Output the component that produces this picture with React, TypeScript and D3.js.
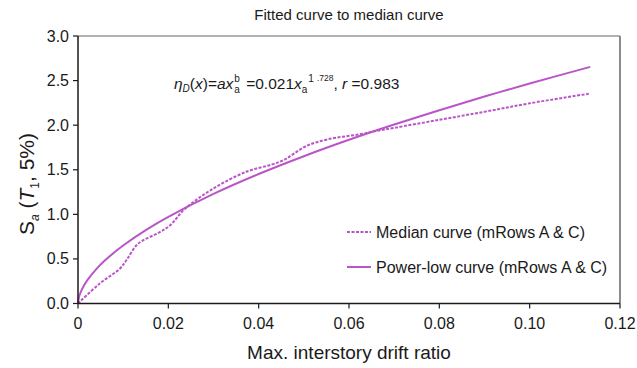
import React from "react";
import * as d3 from "d3";

const medianX = [0, 0.0048, 0.0093, 0.0107, 0.0133, 0.0181, 0.0204, 0.0237, 0.03, 0.0374, 0.043, 0.0456, 0.0478, 0.0507, 0.0552, 0.0626, 0.066, 0.07, 0.08, 0.09, 0.1, 0.1134];
const medianY = [0, 0.224, 0.392, 0.485, 0.67, 0.8, 0.877, 1.063, 1.29, 1.48, 1.56, 1.61, 1.68, 1.77, 1.84, 1.9, 1.935, 1.97, 2.06, 2.15, 2.245, 2.355];
const powerX = [0, 0.0002, 0.0005, 0.001, 0.002, 0.004, 0.006, 0.008, 0.01, 0.015, 0.02, 0.03, 0.04, 0.05, 0.06, 0.07, 0.08, 0.09, 0.1, 0.1134];
const powerY = [0, 0.068, 0.115, 0.172, 0.256, 0.383, 0.484, 0.572, 0.651, 0.823, 0.972, 1.229, 1.452, 1.652, 1.836, 2.007, 2.168, 2.321, 2.467, 2.654];
const xTicks = [0, 0.02, 0.04, 0.06, 0.08, 0.1, 0.12];
const xTickLabels = ["0", "0.02", "0.04", "0.06", "0.08", "0.10", "0.12"];
const yTicks = [0, 0.5, 1, 1.5, 2, 2.5, 3];
const legendLabels = ["Median curve (mRows A & C)", "Power-low curve (mRows A & C)"];

const COLOR = "#BA55C8";
const FONT = "Liberation Sans, Arial, sans-serif";
const INK = "#1a1a1a";

export default function App() {
  const left = 78, right = 620, top = 36, bottom = 303.5;
  const x = d3.scaleLinear().domain([0, 0.12]).range([left, right]);
  const y = d3.scaleLinear().domain([0, 3]).range([bottom, top]);
  const line = d3
    .line<[number, number]>()
    .x((d) => x(d[0]))
    .y((d) => y(d[1]))
    .curve(d3.curveCatmullRom.alpha(0.5));
  const medianPath = line(medianX.map((v, i) => [v, medianY[i]]) as [number, number][]) || "";
  const powerPath = line(powerX.map((v, i) => [v, powerY[i]]) as [number, number][]) || "";

  return (
    <svg width={637} height={368} style={{ position: "absolute", left: 0, top: 0, background: "#fff" }} fontFamily={FONT}>
      <rect width={637} height={368} fill="#fff" />
      <text x={(left + right) / 2} y={20} textAnchor="middle" fontSize={15} fill={INK}>
        Fitted curve to median curve
      </text>
      <line x1={left} x2={right} y1={top} y2={top} stroke="#666" strokeWidth={1.2} />
      <line x1={right} x2={right} y1={top} y2={bottom} stroke="#666" strokeWidth={1.5} />
      <path d={powerPath} fill="none" stroke={COLOR} strokeWidth={2} />
      <path d={medianPath} fill="none" stroke={COLOR} strokeWidth={2} strokeDasharray="3,1.5" />
      <line x1={left} x2={left} y1={top} y2={bottom} stroke={INK} strokeWidth={1.5} />
      <line x1={left} x2={right} y1={bottom} y2={bottom} stroke={INK} strokeWidth={1.5} />
      {xTicks.map((t, i) => (
        <g key={"x" + i}>
          <line x1={x(t)} x2={x(t)} y1={bottom} y2={bottom + 5} stroke={INK} strokeWidth={1.2} />
          <text x={x(t)} y={bottom + 25} textAnchor="middle" fontSize={16} fill={INK}>
            {xTickLabels[i]}
          </text>
        </g>
      ))}
      {yTicks.map((t, i) => (
        <g key={"y" + i}>
          <line x1={left - 5} x2={left} y1={y(t)} y2={y(t)} stroke={INK} strokeWidth={1.2} />
          <text x={left - 9} y={y(t) + 5.5} textAnchor="end" fontSize={16} fill={INK}>
            {t.toFixed(1)}
          </text>
        </g>
      ))}
      <text x={(left + right) / 2} y={359} textAnchor="middle" fontSize={19} fill={INK}>
        Max. interstory drift ratio
      </text>
      <text transform={`translate(34,184) rotate(-90)`} textAnchor="middle" fontSize={21} fill={INK}>
        <tspan>S</tspan>
        <tspan fontSize={12} fontStyle="italic" dy={5}>a</tspan>
        <tspan dy={-5}> (</tspan>
        <tspan fontStyle="italic">T</tspan>
        <tspan fontSize={12} dy={5}>1</tspan>
        <tspan dy={-5}>, 5%)</tspan>
      </text>
      <text x={174} y={89} fontSize={15.5} fill={INK}>
        <tspan fontStyle="italic">η</tspan>
        <tspan fontStyle="italic" fontSize={10} dy={3}>D</tspan>
        <tspan dy={-3}>(</tspan>
        <tspan fontStyle="italic">x</tspan>
        <tspan>)=</tspan>
        <tspan fontStyle="italic">ax</tspan>
        <tspan fontSize={10} dy={-7} dx={1}>b</tspan>
        <tspan fontSize={10} dy={11} dx={-5.6}>a</tspan>
        <tspan dy={-4} dx={2}> =0.021</tspan>
        <tspan fontStyle="italic">x</tspan>
        <tspan fontSize={10} dy={4}>a</tspan>
        <tspan fontSize={10} dy={-11} dx={1}>1</tspan>
        <tspan fontSize={8.5} dy={-1} dx={3}>.728</tspan>
        <tspan dy={8}>, </tspan>
        <tspan fontStyle="italic">r</tspan>
        <tspan> =0.983</tspan>
      </text>
      {legendLabels.map((l, i) => (
        <g key={"l" + i}>
          <line x1={347} x2={371} y1={232 + i * 35} y2={232 + i * 35} stroke={COLOR} strokeWidth={2} strokeDasharray={i === 0 ? "3,1.5" : undefined} />
          <text x={376} y={238 + i * 35} fontSize={16} fill={INK}>
            {l}
          </text>
        </g>
      ))}
    </svg>
  );
}
